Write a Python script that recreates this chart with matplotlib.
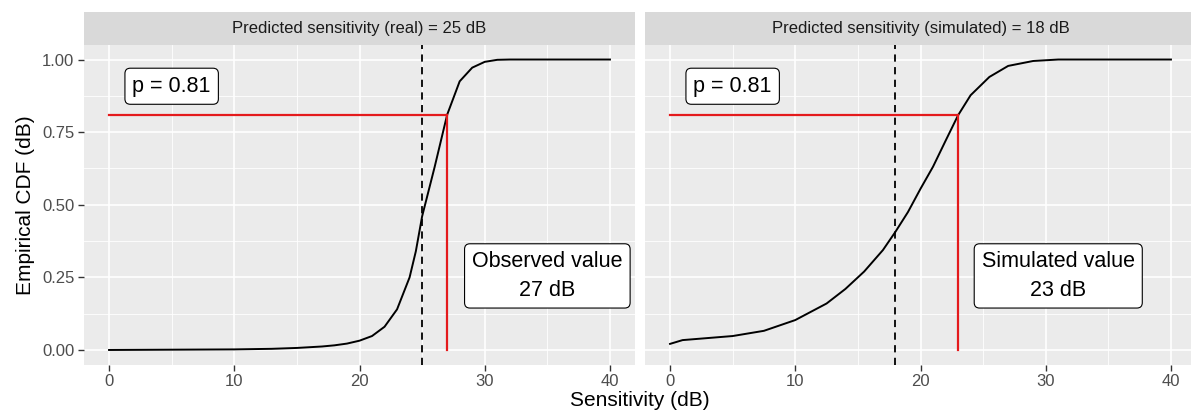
import numpy as np
import matplotlib
matplotlib.use('Agg')
import matplotlib.pyplot as plt

plt.rcParams['font.family'] = ['Liberation Sans', 'DejaVu Sans']

# data
real_x = [0, 5, 10, 13, 15, 17, 18, 19, 20, 21, 22, 23, 24, 24.5, 25, 26, 27, 28, 29, 30, 31, 32, 40]
real_y = [0.0, 0.001, 0.002, 0.004, 0.007, 0.012, 0.016, 0.022, 0.032, 0.048, 0.08, 0.14, 0.25, 0.34, 0.46, 0.63, 0.81, 0.925, 0.972, 0.992, 0.999, 1.0, 1.0]
sim_x = [0, 1, 5, 7.5, 10, 12.5, 14, 15.5, 17, 18, 19, 20, 21, 22, 23, 24, 25.5, 27, 29, 31, 40]
sim_y = [0.021, 0.034, 0.048, 0.066, 0.103, 0.16, 0.21, 0.27, 0.344, 0.407, 0.475, 0.555, 0.631, 0.72, 0.808, 0.877, 0.94, 0.978, 0.995, 1.0, 1.0]

titles = ['Predicted sensitivity (real) = 25 dB', 'Predicted sensitivity (simulated) = 18 dB']
predicted = [25, 18]
observed = [27, 23]
p_value = 0.81
value_labels = ['Observed value\n27 dB', 'Simulated value\n23 dB']
label_x = [35, 31]

fig = plt.figure(figsize=(11.91, 4.16), dpi=100)
W, H = 1191, 416
panels = [(84, 635), (645, 1196)]
top, bottom, strip_top = 45, 364.5, 12

xs = [real_x, sim_x]
ys = [real_y, sim_y]
for i, (l, r) in enumerate(panels):
	ax = fig.add_axes([l / W, 1 - bottom / H, (r - l) / W, (bottom - top) / H])
	ax.set_facecolor('#EBEBEB')
	for s in ax.spines.values():
		s.set_visible(False)
	ax.set_xlim(-2, 42)
	ax.set_ylim(-0.05, 1.05)
	ax.set_xticks([0, 10, 20, 30, 40])
	ax.set_yticks([0, 0.25, 0.5, 0.75, 1.0])
	ax.set_xticks([5, 15, 25, 35], minor=True)
	ax.set_yticks([0.125, 0.375, 0.625, 0.875], minor=True)
	ax.grid(True, which='major', color='white', lw=1.2)
	ax.grid(True, which='minor', color='white', lw=0.6)
	ax.set_axisbelow(True)
	ax.tick_params(which='minor', length=0)
	ax.tick_params(which='major', length=4, width=1, color='#333333', labelcolor='#4D4D4D',
		labelsize=12, pad=3)
	if i == 0:
		ax.set_yticklabels(['0.00', '0.25', '0.50', '0.75', '1.00'])
		ax.set_ylabel('Empirical CDF (dB)', fontsize=15, color='black', labelpad=5)
	else:
		ax.tick_params(axis='y', left=False, labelleft=False)

	ax.plot(xs[i], ys[i], color='black', lw=1.4)
	ax.axvline(predicted[i], color='black', lw=1.3, ls=(0, (4, 3)))
	ax.plot([0, observed[i]], [p_value, p_value], color='#E41A1C', lw=1.6)
	ax.plot([observed[i], observed[i]], [0, p_value], color='#E41A1C', lw=1.6)

	box = dict(boxstyle='round,pad=0.35,rounding_size=0.25', fc='white', ec='black', lw=0.8)
	ax.text(5, 0.908, f'p = {p_value}', fontsize=15.5, ha='center', va='center', bbox=box)
	ax.text(label_x[i], 0.255, value_labels[i], fontsize=15.5, ha='center', va='center',
		linespacing=1.45, bbox=box)

	# facet strip
	sax = fig.add_axes([l / W, 1 - top / H, (r - l) / W, (top - strip_top) / H])
	sax.set_facecolor('#D9D9D9')
	sax.set_xticks([])
	sax.set_yticks([])
	for s in sax.spines.values():
		s.set_visible(False)
	sax.text(0.5, 0.5, titles[i], ha='center', va='center', fontsize=12, color='#1A1A1A',
		transform=sax.transAxes)

fig.text(640 / W, 1 - 401 / H, 'Sensitivity (dB)', ha='center', va='center', fontsize=15)
fig.savefig('out.png', dpi=100)
